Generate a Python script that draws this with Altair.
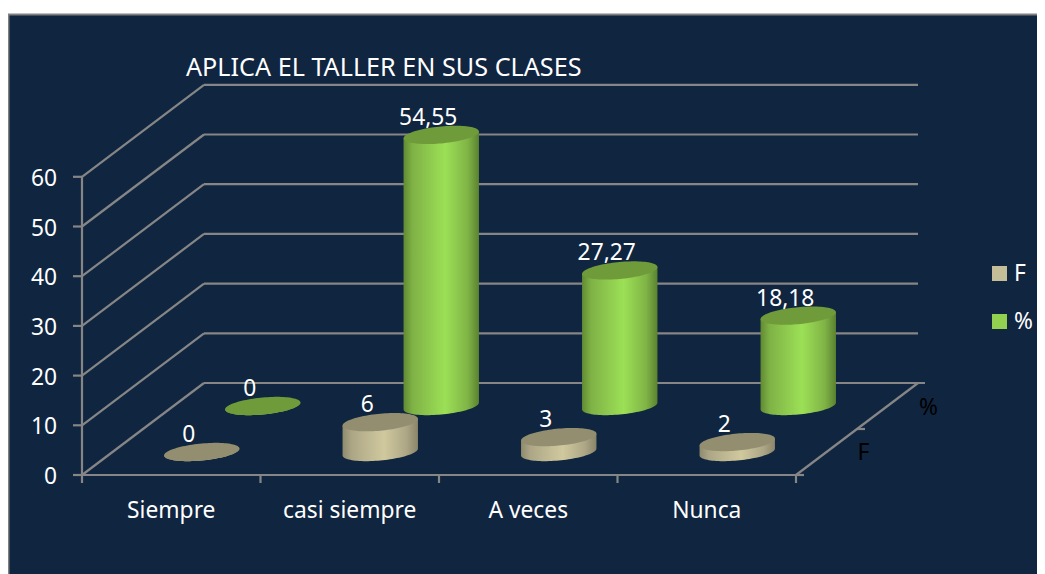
import math
import altair as alt
import pandas as pd

# ---------- values ----------
categories = ["Siempre", "casi siempre", "A veces", "Nunca"]
series_names = ["F", "%"]
values_f = [0, 6, 3, 2]
values_pct = [0, 54.55, 27.27, 18.18]
labels_f = ["0", "6", "3", "2"]
labels_pct = ["0", "54,55", "27,27", "18,18"]
y_ticks = [0, 10, 20, 30, 40, 50, 60]
title_text = "APLICA EL TALLER EN SUS CLASES"

# ---------- oblique projection of (category, value, depth) on the page ----------
ORIGIN = (82.0, 475.0)
CAT_W = 178.5
UNIT = 4.97
DEPTH = (122.0, -92.0)
RX, RY, TILT = 37.7, 8.5, 3.4
FONT = "Noto Sans"
GRID = "#868686"


def proj(cat, val, depth):
    return (
        ORIGIN[0] + cat * CAT_W + depth * DEPTH[0],
        ORIGIN[1] - val * UNIT + depth * DEPTH[1],
    )


n = len(categories)
xs = alt.Scale(domain=[8, 1037], range=[0, 1029], zero=False, nice=False)
ys = alt.Scale(domain=[574, 8], range=[566, 0], zero=False, nice=False)
X = alt.X("x:Q", scale=xs, axis=None)
Y = alt.Y("y:Q", scale=ys, axis=None, stack=None)
X2 = alt.X2("x2:Q")
Y2 = alt.Y2("y2:Q")

# panel
panel = (
    alt.Chart(pd.DataFrame([{"x": 8.5, "x2": 1060, "y": 14.5, "y2": 590}]))
    .mark_rect(fill="#10253f", stroke="#808080", strokeWidth=2, clip=False)
    .encode(x=X, x2=X2, y=Y, y2=Y2)
)

# grid, walls, axes
segs = []
for v in y_ticks:
    a = proj(0, v, 0)
    b = proj(0, v, 1)
    c = proj(n, v, 1)
    segs.append((a, b))
    segs.append((b, (c[0] + (7 if v == 0 else 0), c[1])))
    segs.append(((a[0] - 9, a[1]), a))
segs.append((proj(0, 0, 0), proj(0, 60, 0)))
segs.append((proj(0, 0, 0), proj(n, 0, 0)))
segs.append((proj(n, 0, 0), proj(n, 0, 1)))
for i in range(n + 1):
    p = proj(i, 0, 0)
    segs.append((p, (p[0], p[1] + 8)))
p = proj(n, 0, 0)
segs.append((p, (p[0] + 8, p[1])))
p = proj(n, 0, 0.5)
segs.append((p, (p[0] + 8, p[1])))
grid = (
    alt.Chart(
        pd.DataFrame(
            [{"x": a[0], "y": a[1], "x2": b[0], "y2": b[1]} for a, b in segs]
        )
    )
    .mark_rule(color=GRID, strokeWidth=2.2)
    .encode(x=X, x2=X2, y=Y, y2=Y2)
)

# cylinders: one side area and one cap area per column
ts = [math.pi - math.pi * k / 48 for k in range(49)]


def cylinder(vals, depth, stops, top):
    grad = alt.Gradient(
        gradient="linear",
        x1=0,
        x2=1,
        y1=0,
        y2=0,
        stops=[alt.GradientStop(color=col, offset=o) for o, col in stops],
    )
    layers = []
    for i, v in enumerate(vals):
        bx, by = proj(i + 0.5, 0, depth)
        tx, ty = proj(i + 0.5, v, depth)
        side, cap = [], []
        for t in ts:
            c, s = math.cos(t), math.sin(t)
            x = bx + RX * c
            side.append({"x": x, "y": ty - TILT * c, "y2": by - TILT * c + RY * s})
            cap.append({"x": x, "y": ty - TILT * c - RY * s, "y2": ty - TILT * c + RY * s})
        layers.append(
            alt.Chart(pd.DataFrame(side))
            .mark_area(color=grad, interpolate="linear", orient="vertical")
            .encode(x=X, y=Y, y2=Y2)
        )
        layers.append(
            alt.Chart(pd.DataFrame(cap))
            .mark_area(color=top, interpolate="linear", orient="vertical")
            .encode(x=X, y=Y, y2=Y2)
        )
    return layers


green_stops = [(0, "#618a33"), (0.12, "#7fb246"), (0.55, "#9ce056"), (0.85, "#80b446"), (1, "#5b8230")]
tan_stops = [(0, "#8f8a6e"), (0.12, "#aca686"), (0.55, "#d0c99e"), (0.85, "#aca686"), (1, "#8a8569")]
green_layers = cylinder(values_pct, 0.75, green_stops, "#6f9b3b")
tan_layers = cylinder(values_f, 0.25, tan_stops, "#938e70")

# texts
texts = []
for vals, labs, d in ((values_pct, labels_pct, 0.75), (values_f, labels_f, 0.25)):
    for i, (v, lab) in enumerate(zip(vals, labs)):
        px, py = proj(i + 0.5, v, d)
        texts.append({"x": px - 13, "y": py - 10, "t": lab})
bar_labels = (
    alt.Chart(pd.DataFrame(texts))
    .mark_text(font=FONT, fontSize=22.8, color="white", align="center", baseline="alphabetic")
    .encode(x=X, y=Y, text="t:N")
)

ytxt = [
    {"x": proj(0, v, 0)[0] - 25, "y": proj(0, v, 0)[1] + 9, "t": str(v)} for v in y_ticks
]
y_labels = (
    alt.Chart(pd.DataFrame(ytxt))
    .mark_text(font=FONT, fontSize=22.8, color="white", align="right", baseline="alphabetic")
    .encode(x=X, y=Y, text="t:N")
)

xtxt = [
    {"x": proj(i + 0.5, 0, 0)[0], "y": proj(i + 0.5, 0, 0)[1] + 43, "t": c}
    for i, c in enumerate(categories)
]
x_labels = (
    alt.Chart(pd.DataFrame(xtxt))
    .mark_text(font=FONT, fontSize=22.8, color="white", align="center", baseline="alphabetic")
    .encode(x=X, y=Y, text="t:N")
)

depth_labels = (
    alt.Chart(
        pd.DataFrame(
            [
                {"x": proj(n, 0, 0.25)[0] + 37, "y": proj(n, 0, 0.25)[1] + 8, "t": series_names[0]},
                {"x": proj(n, 0, 0.75)[0] + 41, "y": proj(n, 0, 0.75)[1] + 9, "t": series_names[1]},
            ]
        )
    )
    .mark_text(font=FONT, fontSize=22.8, color="black", align="center", baseline="alphabetic")
    .encode(x=X, y=Y, text="t:N")
)

title = (
    alt.Chart(pd.DataFrame([{"x": 186, "y": 76, "t": title_text}]))
    .mark_text(font=FONT, fontSize=25.2, color="white", align="left", baseline="alphabetic")
    .encode(x=X, y=Y, text="t:N")
)

# legend
leg = pd.DataFrame(
    [
        {"x": 999.5, "y": 273.5, "tx": 1014, "ty": 281, "t": series_names[0], "c": "#c4bd97"},
        {"x": 999.5, "y": 321.5, "tx": 1014, "ty": 329, "t": series_names[1], "c": "#92d050"},
    ]
)
leg_sq = (
    alt.Chart(leg)
    .mark_square(size=225, opacity=1, filled=True)
    .encode(x=X, y=Y, color=alt.Color("c:N", scale=None, legend=None))
)
leg_tx = (
    alt.Chart(leg)
    .mark_text(font=FONT, fontSize=22.8, color="white", align="left", baseline="alphabetic")
    .encode(
        x=alt.X("tx:Q", scale=xs, axis=None),
        y=alt.Y("ty:Q", scale=ys, axis=None),
        text="t:N",
    )
)

chart = (
    alt.layer(
        panel, grid, *green_layers, *tan_layers,
        bar_labels, y_labels, x_labels, depth_labels, title, leg_sq, leg_tx,
    )
    .properties(width=1029, height=566, padding=0, autosize=alt.AutoSizeParams(type="none"))
    .configure_view(stroke=None, fill=None)
)
chart.save("out.html", embed_options={"renderer": "svg", "actions": False})
